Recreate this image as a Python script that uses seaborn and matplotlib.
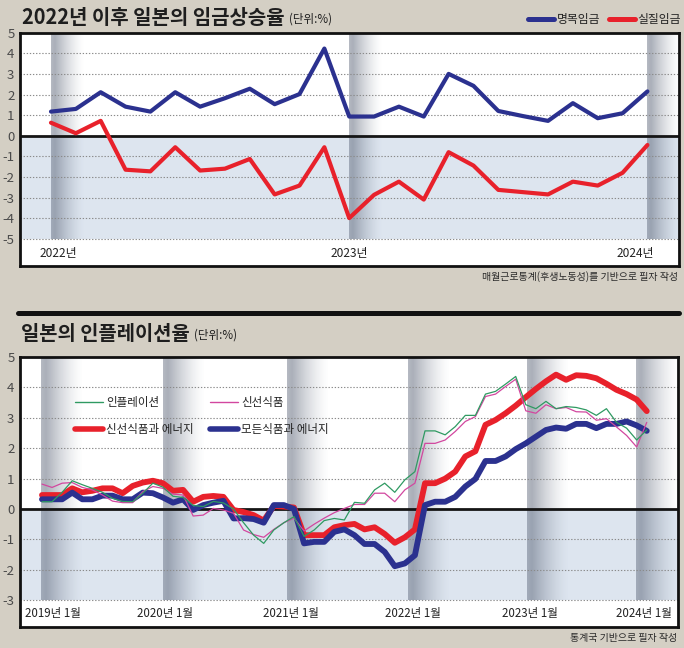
import numpy as np
import pandas as pd
import matplotlib
matplotlib.use("Agg")
import matplotlib.pyplot as plt
from matplotlib.lines import Line2D
import seaborn as sns

# ---------------- data ----------------
wage_months = list(pd.period_range("2022-01", "2024-01", freq="M").astype(str))
nominal_wage = [1.17, 1.30, 2.11, 1.41, 1.17, 2.11, 1.41, 1.82, 2.28, 1.53, 2.02, 4.23,
                0.93, 0.93, 1.41, 0.93, 3.00, 2.42, 1.20, 0.95, 0.72, 1.58, 0.85, 1.09,
                2.15]
real_wage = [0.63, 0.12, 0.72, -1.65, -1.73, -0.56, -1.69, -1.60, -1.13, -2.85, -2.42, -0.56,
             -4.00, -2.87, -2.23, -3.10, -0.80, -1.45, -2.63, -2.74, -2.85, -2.23, -2.42, -1.80,
             -0.45]
wage_tick_labels = ["2022년", "2023년", "2024년"]
wage_series_names = ["명목임금", "실질임금"]

cpi_months = list(pd.period_range("2019-01", "2024-01", freq="M").astype(str))
cpi_headline = [0.24, 0.24, 0.55, 0.93, 0.80, 0.68, 0.55, 0.35, 0.25, 0.24,
                0.52, 0.85, 0.72, 0.42, 0.38, 0.12, 0.08, 0.25, 0.20, 0.00,
                -0.45, -0.86, -1.13, -0.69, -0.45, -0.25, -0.90, -0.69, -0.38, -0.31,
                -0.36, 0.22, 0.19, 0.63, 0.85, 0.55, 0.96, 1.23, 2.57, 2.57,
                2.44, 2.71, 3.08, 3.08, 3.78, 3.87, 4.11, 4.36, 3.43, 3.30,
                3.54, 3.30, 3.37, 3.34, 3.26, 3.08, 3.30, 2.85, 2.66, 2.27, 2.60]
cpi_ex_fresh = [0.82, 0.71, 0.85, 0.87, 0.71, 0.63, 0.46, 0.26, 0.21, 0.21,
                0.57, 0.74, 0.68, 0.49, 0.46, -0.23, -0.20, 0.02, -0.03, -0.14,
                -0.69, -0.84, -0.93, -0.67, -0.45, -0.30, -0.72, -0.50, -0.30, -0.12,
                0.02, 0.15, 0.15, 0.52, 0.52, 0.24, 0.63, 0.85, 2.16, 2.16,
                2.27, 2.55, 2.88, 3.04, 3.70, 3.78, 4.03, 4.27, 3.23, 3.15,
                3.43, 3.30, 3.34, 3.20, 3.19, 2.92, 2.97, 2.70, 2.42, 2.04, 2.85]
cpi_ex_fresh_energy = [0.46, 0.46, 0.46, 0.68, 0.55, 0.60, 0.68, 0.68, 0.52, 0.76,
                       0.87, 0.93, 0.85, 0.60, 0.63, 0.24, 0.40, 0.43, 0.40, -0.03,
                       -0.10, -0.20, -0.38, 0.10, 0.08, 0.05, -0.86, -0.86, -0.86, -0.60,
                       -0.53, -0.49, -0.67, -0.60, -0.82, -1.11, -0.93, -0.67, 0.85, 0.85,
                       1.00, 1.23, 1.73, 1.90, 2.77, 2.93, 3.15, 3.40, 3.68, 3.95,
                       4.20, 4.42, 4.25, 4.40, 4.38, 4.30, 4.12, 3.92, 3.78, 3.60, 3.22]
cpi_ex_food_energy = [0.32, 0.32, 0.32, 0.54, 0.32, 0.32, 0.44, 0.44, 0.32, 0.32,
                      0.54, 0.52, 0.38, 0.21, 0.32, -0.03, 0.13, 0.21, 0.27, -0.31,
                      -0.30, -0.33, -0.45, 0.13, 0.13, 0.00, -1.13, -1.08, -1.08, -0.75,
                      -0.67, -0.86, -1.15, -1.15, -1.41, -1.88, -1.79, -1.52, 0.13, 0.24,
                      0.24, 0.40, 0.74, 0.99, 1.58, 1.58, 1.73, 1.97, 2.16, 2.38,
                      2.60, 2.68, 2.64, 2.80, 2.80, 2.66, 2.80, 2.80, 2.88, 2.75, 2.57]
cpi_tick_labels = ["2019년 1월", "2020년 1월", "2021년 1월", "2022년 1월", "2023년 1월", "2024년 1월"]
cpi_series_names = ["인플레이션", "신선식품", "신선식품과 에너지", "모든식품과 에너지"]

# ---------------- style / layout ----------------
W, H = 684, 648
BG = "#d4cfc4"
NAVY = "#2b318f"
RED = "#e8212b"
GREEN = "#2f9a62"
MAGENTA = "#d2479f"
BLUE_FILL = "#dde5ef"
GRID = "#8a8a8a"
BAND_RGB = (0.33, 0.37, 0.45)

WAGE_BANDS = [(0.0, 1.35), (12.0, 1.35), (24.0, 1.35)]
WAGE_LABEL_POS = [0.28, 12.0, 23.5]
CPI_BANDS = [(-0.1, 4.2), (12.0, 4.2), (24.3, 4.2), (36.3, 4.2), (48.1, 4.2), (58.9, 4.3)]
CPI_LABEL_POS = [1.1, 12.2, 24.7, 36.8, 48.4, 59.7]

sns.set_theme(style="white")
plt.rcParams["font.family"] = ["Noto Sans CJK KR", "DejaVu Sans"]
plt.rcParams["axes.unicode_minus"] = False

fig = plt.figure(figsize=(W / 100, H / 100), dpi=100)
fig.patch.set_facecolor(BG)


def px_rect(left, top, right, bottom):
    return [left / W, 1 - bottom / H, (right - left) / W, (bottom - top) / H]


def draw_band(ax, x0, width, y0, y1, amax=0.6):
    t = np.linspace(0, 1, 300)
    alpha = amax * np.clip(0.72 + t / 0.12 * 0.28, 0, 1) * (1 - t) ** 1.5
    rgba = np.zeros((1, t.size, 4))
    rgba[..., :3] = BAND_RGB
    rgba[..., 3] = alpha
    ax.imshow(rgba, extent=(x0, x0 + width, y0, y1), aspect="auto",
              interpolation="bilinear", zorder=1)


def base_axes(ax, ylow, xlim, ylim, bands):
    ax.set_facecolor("white")
    ax.axhspan(ylow, 0, color=BLUE_FILL, lw=0, zorder=0)
    for x0, w in bands:
        draw_band(ax, x0, w, ylow, 5)
    for v in range(ylow, 6):
        if v != 0:
            ax.axhline(v, color=GRID, lw=0.8, ls=(0, (1.2, 1.6)), zorder=2)
    ax.axhline(0, color="#151515", lw=2.0, zorder=3)
    ax.set_xlim(*xlim)
    ax.set_ylim(*ylim)
    ax.set_yticks(range(ylow, 6))
    ax.set_yticklabels([str(v) for v in range(ylow, 6)])
    ax.set_xticks([])
    ax.tick_params(axis="y", length=0, pad=4, labelcolor="#4a4a4a", labelsize=9.5)
    ax.set_xlabel("")
    ax.set_ylabel("")
    for s in ax.spines.values():
        s.set_visible(True)
        s.set_color("#111111")
        s.set_linewidth(2.0)
        s.set_zorder(10)


# ---------------- top chart: wages ----------------
wage_df = pd.DataFrame({"month": wage_months, "idx": np.arange(len(wage_months)),
                        "nominal": nominal_wage, "real": real_wage})
ax1 = fig.add_axes(px_rect(20, 32.7, 679, 265.7))
base_axes(ax1, -5, (-1.247, 25.27), (-6.31, 5), WAGE_BANDS)
sns.lineplot(data=wage_df, x="idx", y="nominal", color=NAVY, lw=3.0, ax=ax1,
             legend=False, zorder=5)
sns.lineplot(data=wage_df, x="idx", y="real", color=RED, lw=3.0, ax=ax1,
             legend=False, zorder=5)
ax1.set_xlabel("")
ax1.set_ylabel("")
for pos, lab in zip(WAGE_LABEL_POS, wage_tick_labels):
    ax1.text(pos, -5.7, lab, ha="center", va="center", fontsize=8.6, color="#222222")

fig.text(22 / W, 1 - 18 / H, "2022년 이후 일본의 임금상승율", fontsize=14.4,
         fontweight="bold", va="center", ha="left", color="#1e1e1e")
fig.text(289 / W, 1 - 19 / H, "(단위:%)", fontsize=8.3, va="center", ha="left",
         color="#1e1e1e")
wage_handles = [Line2D([], [], color=NAVY, lw=3.6, solid_capstyle="round"),
                Line2D([], [], color=RED, lw=3.6, solid_capstyle="round")]
fig.legend(wage_handles, wage_series_names, ncol=2, loc="center right",
           bbox_to_anchor=(681 / W, 1 - 20 / H), frameon=False, fontsize=8.5,
           handlelength=2.2, handletextpad=0.25, columnspacing=0.7,
           borderpad=0, borderaxespad=0, labelcolor="#222222")
fig.text(678 / W, 1 - 277 / H, "매월근로통계(후생노동성)를 기반으로 필자 작성",
         fontsize=7.2, ha="right", va="center", color="#2a2a2a")

# separator bar
fig.add_artist(Line2D([18 / W, 679 / W], [1 - 312.5 / H] * 2, lw=3.6,
                      color="#111111", transform=fig.transFigure))

# ---------------- bottom chart: inflation ----------------
cpi_df = pd.DataFrame({"month": cpi_months, "idx": np.arange(len(cpi_months)),
                       "headline": cpi_headline, "ex_fresh": cpi_ex_fresh,
                       "ex_fresh_energy": cpi_ex_fresh_energy,
                       "ex_food_energy": cpi_ex_food_energy})
ax2 = fig.add_axes(px_rect(20, 357, 678, 627))
base_axes(ax2, -3, (-2.18, 63.1), (-3.88, 5), CPI_BANDS)
sns.lineplot(data=cpi_df, x="idx", y="ex_fresh_energy", color=RED, lw=4.2, ax=ax2,
             legend=False, zorder=5)
sns.lineplot(data=cpi_df, x="idx", y="ex_food_energy", color=NAVY, lw=4.2, ax=ax2,
             legend=False, zorder=6)
sns.lineplot(data=cpi_df, x="idx", y="ex_fresh", color=MAGENTA, lw=0.9, ax=ax2,
             legend=False, zorder=7)
sns.lineplot(data=cpi_df, x="idx", y="headline", color=GREEN, lw=0.9, ax=ax2,
             legend=False, zorder=8)
ax2.set_xlabel("")
ax2.set_ylabel("")
for pos, lab in zip(CPI_LABEL_POS, cpi_tick_labels):
    ax2.text(pos, -3.45, lab, ha="center", va="center", fontsize=8.3, color="#222222")

cpi_handles = [Line2D([], [], color=GREEN, lw=1.0),
               Line2D([], [], color=RED, lw=4.0, solid_capstyle="round"),
               Line2D([], [], color=MAGENTA, lw=1.0),
               Line2D([], [], color=NAVY, lw=4.0, solid_capstyle="round")]
cpi_labels = [cpi_series_names[0], cpi_series_names[2], cpi_series_names[1], cpi_series_names[3]]
ax2.legend(cpi_handles, cpi_labels, ncol=2, loc="upper left",
           bbox_to_anchor=((75 - 20) / 658, (627 - 396) / 270), frameon=False,
           fontsize=8.3, handlelength=2.4, handletextpad=0.3, columnspacing=1.4,
           labelspacing=1.25, borderpad=0, borderaxespad=0, labelcolor="#222222")

fig.text(21 / W, 1 - 334 / H, "일본의 인플레이션율", fontsize=14.3, fontweight="bold",
         va="center", ha="left", color="#1e1e1e")
fig.text(194 / W, 1 - 335 / H, "(단위:%)", fontsize=8.3, va="center", ha="left",
         color="#1e1e1e")
fig.text(677 / W, 1 - 638 / H, "통계국 기반으로 필자 작성", fontsize=7.2,
         ha="right", va="center", color="#2a2a2a")

fig.savefig("out.png", dpi=100, facecolor=fig.get_facecolor())
